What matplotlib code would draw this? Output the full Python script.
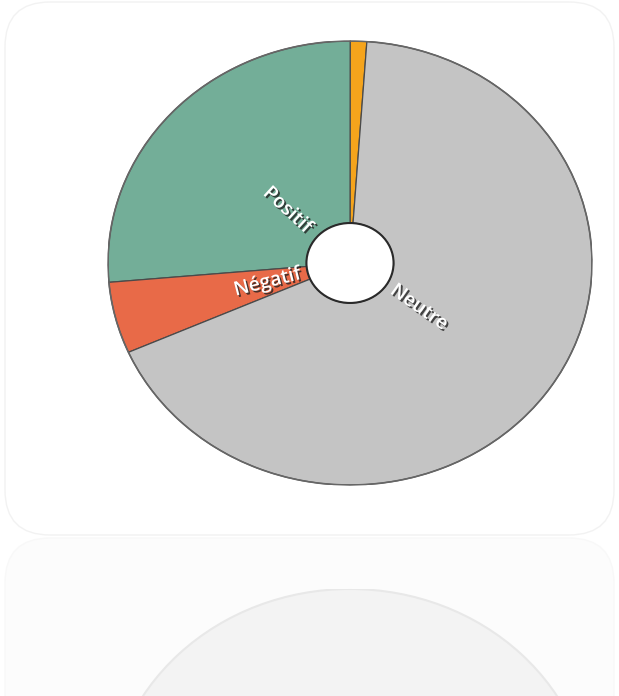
import matplotlib
matplotlib.use("Agg")
import matplotlib.pyplot as plt
import matplotlib.patheffects as pe
from matplotlib.patches import FancyBboxPatch
import numpy as np

# données du graphique (parts en %)
categories = ["Mixte", "Positif", "Négatif", "Neutre"]
values = [1.1, 26.4, 5.2, 67.3]
colors = ["#F5A41C", "#73AE98", "#E86A48", "#C4C4C4"]
shown = ["Positif", "Négatif", "Neutre"]

W, H = 619, 696
fig = plt.figure(figsize=(W / 100, H / 100), dpi=100)
fig.patch.set_facecolor("white")

# carte arrondie + reflet
bg = fig.add_axes([0, 0, 1, 1])
bg.set_xlim(0, W)
bg.set_ylim(H, 0)
bg.axis("off")
bg.add_patch(FancyBboxPatch((5, 2), 609, 533, boxstyle="round,pad=0,rounding_size=45",
                            fc="white", ec="#f2f2f2", lw=1))
bg.add_patch(FancyBboxPatch((5, 538), 609, 200, boxstyle="round,pad=0,rounding_size=45",
                            fc="#fcfcfc", ec="#f8f8f8", lw=1))

# reflet du donut (miroir, très pâle)
refl = fig.add_axes([108 / W, (H - 589 - 444) / H, 484 / W, 444 / H])
refl.pie(values, startangle=86, counterclock=True,
         colors=["#f3f3f3"] * len(values),
         wedgeprops=dict(width=0.82, edgecolor="#f3f3f3", linewidth=0))
refl.add_patch(plt.Circle((0, 0), 1.0, fill=False, ec="#e8e8e8", lw=1.5))
refl.set_aspect("auto")
refl.set_xlim(-1, 1)
refl.set_ylim(1, -1)
refl.axis("off")

# donut principal
ax = fig.add_axes([108 / W, (H - 485) / H, 484 / W, 444 / H])
wedges, _ = ax.pie(values, startangle=86, counterclock=True, colors=colors,
                   wedgeprops=dict(width=0.82, edgecolor="#4a4a4a", linewidth=0.9))
ax.add_patch(plt.Circle((0, 0), 1.0, fill=False, ec="#666666", lw=1.2))
ax.add_patch(plt.Circle((0, 0), 0.18, fc="white", ec="#2a2a2a", lw=1.5, zorder=5))
ax.set_aspect("auto")
ax.set_xlim(-1, 1)
ax.set_ylim(-1, 1)
ax.axis("off")

# étiquettes radiales
for w, name in zip(wedges, categories):
    if name not in shown:
        continue
    mid = (w.theta1 + w.theta2) / 2
    a = np.deg2rad(mid)
    r = 0.35
    rot = mid % 360
    if 90 < rot < 270:
        rot -= 180
    ax.text(r * np.cos(a), r * np.sin(a), name, rotation=rot,
            ha="center", va="center", rotation_mode="anchor",
            fontsize=14, fontweight="semibold", color="white", family="Open Sans", zorder=6,
            path_effects=[pe.SimplePatchShadow(offset=(1.3, -1.3), shadow_rgbFace="#222222", alpha=0.8),
                          pe.Normal()])

fig.savefig("out.png", dpi=100)
